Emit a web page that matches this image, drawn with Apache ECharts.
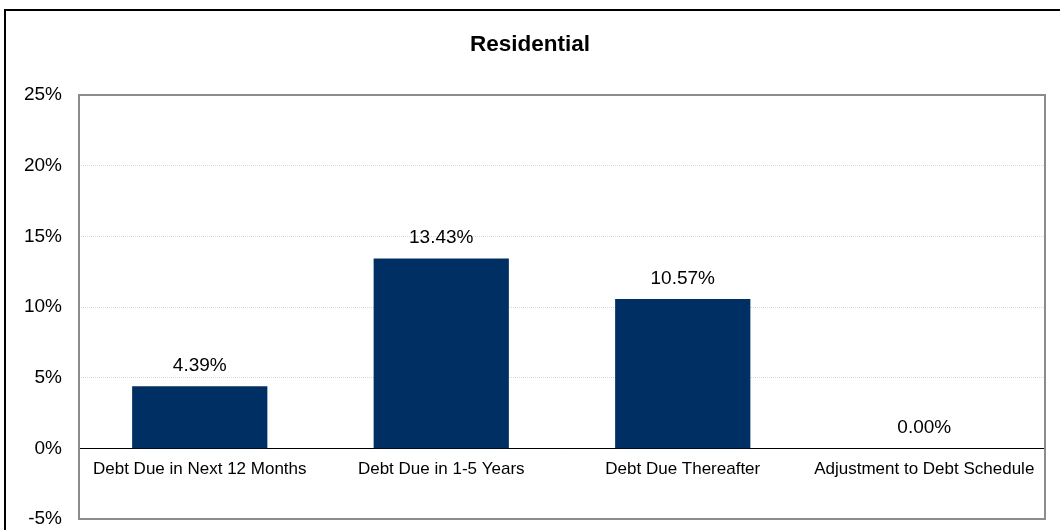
<!DOCTYPE html>
<html>
<head>
<meta charset="utf-8">
<script src="https://cdn.jsdelivr.net/npm/echarts@6/dist/echarts.min.js"></script>
<style>html,body{margin:0;padding:0;background:#fff;}#c{width:1060px;height:530px;}</style>
</head>
<body>
<div id="c"></div>
<script>
const title = 'Residential';
const categories = ['Debt Due in Next 12 Months', 'Debt Due in 1-5 Years', 'Debt Due Thereafter', 'Adjustment to Debt Schedule'];
const values = [4.39, 13.43, 10.57, 0.00];
const yMin = -5, yMax = 25, yStep = 5;

const FONT = 'Liberation Sans, Arial, sans-serif';
const chart = echarts.init(document.getElementById('c'), null, {renderer: 'canvas'});
chart.setOption({
  animation: false,
  backgroundColor: '#fff',
  textStyle: {fontFamily: FONT},
  title: {
    text: title, left: 'center', top: 28,
    textStyle: {fontSize: 22.5, fontWeight: 'bold', color: '#000', fontFamily: FONT}
  },
  graphic: [{
    type: 'rect', shape: {x: 5, y: 10, width: 1200, height: 700},
    style: {fill: 'none', stroke: '#000', lineWidth: 2}, silent: true, z: 100
  }, {
    type: 'rect', shape: {x: 79, y: 95, width: 966, height: 424},
    style: {fill: 'none', stroke: '#8c8c8c', lineWidth: 2}, silent: true, z: 50
  }],
  grid: {left: 79, top: 95, right: 15, bottom: 11, show: false,
    containLabel: false, outerBoundsMode: 'none'},
  xAxis: {
    type: 'category', data: categories,
    axisLine: {show: true, onZero: true, lineStyle: {color: '#000', width: 1}},
    axisTick: {show: false},
    axisLabel: {show: false},
    splitLine: {show: false}
  },
  yAxis: {
    type: 'value', min: yMin, max: yMax, interval: yStep,
    axisLine: {show: false}, axisTick: {show: false},
    axisLabel: {color: '#000', fontSize: 19, margin: 17, formatter: '{value}%', fontFamily: FONT},
    splitLine: {show: true, lineStyle: {color: '#d9d9d9', type: 'dotted', width: 1}}
  },
  series: [{
    type: 'bar', data: values, barWidth: '56%',
    itemStyle: {color: '#003063'},
    label: {show: true, position: 'top', distance: 11, color: '#000', fontSize: 19,
      fontFamily: FONT,
      formatter: p => p.value.toFixed(2) + '%'}
  }, {
    type: 'bar', data: categories.map(() => 0), barWidth: '56%', barGap: '-100%', silent: true,
    itemStyle: {color: 'transparent'},
    label: {show: true, position: 'bottom', distance: 12, color: '#000', fontSize: 17,
      fontFamily: FONT, formatter: p => categories[p.dataIndex]}
  }]
});
</script>
</body>
</html>
